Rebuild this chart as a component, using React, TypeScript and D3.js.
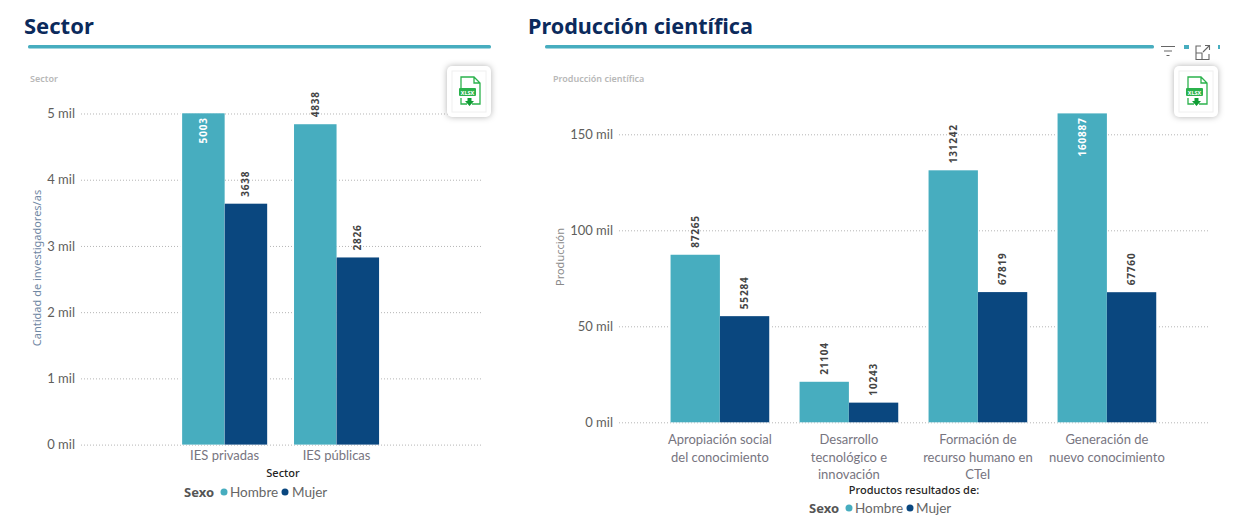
import { useEffect, useRef } from "react";
import * as d3 from "d3";

const seriesNames = ["Hombre", "Mujer"];
const seriesColors = ["#47adbf", "#0a477f"];

const sectorCategories = ["IES privadas", "IES públicas"];
const sectorHombre = [5003, 4838];
const sectorMujer = [3638, 2826];
const sectorTicks = [0, 1000, 2000, 3000, 4000, 5000];

const prodCategories = [
  ["Apropiación social", "del conocimiento"],
  ["Desarrollo", "tecnológico e", "innovación"],
  ["Formación de", "recurso humano en", "CTeI"],
  ["Generación de", "nuevo conocimiento"],
];
const prodHombre = [87265, 21104, 131242, 160887];
const prodMujer = [55284, 10243, 67819, 67760];
const prodTicks = [0, 50000, 100000, 150000];

const FONT = "'Noto Sans', 'Open Sans', sans-serif";
const BODY_FONT = "Lato, 'Noto Sans', sans-serif";

type Sel = d3.Selection<SVGGElement, unknown, null, undefined>;

interface ChartOpts {
  title: string;
  titleX: number;
  titleSize: number;
  ruleX: [number, number];
  caption: string;
  captionX: number;
  labels: string[][];
  hombre: number[];
  mujer: number[];
  ticks: number[];
  xRange: [number, number];
  padding: number;
  yRange: [number, number];
  gridX: [number, number];
  yTitle: string;
  yTitleX: number;
  yTitleY: number;
  yTitleColor: string;
  xTitle: string;
  xTitleX: number;
  xTitleY: number;
  labelY: number;
  legendY: number;
  legendX: [number, number, number, number, number];
  buttonX: number;
}

// boton de descarga xlsx
function drawButton(g: Sel, x: number) {
  const b = g.append("g").attr("transform", `translate(${x},66)`);
  b.append("rect")
    .attr("width", 44)
    .attr("height", 51)
    .attr("rx", 5)
    .attr("fill", "#fff")
    .style("filter", "drop-shadow(0 0 3px rgba(0,0,0,0.3))");
  b.append("rect")
    .attr("x", 5)
    .attr("y", 5)
    .attr("width", 34)
    .attr("height", 41)
    .attr("fill", "none")
    .attr("stroke", "#f0f0f0");
  b.append("path")
    .attr("d", "M14 26 V11 H27 L33 17 V38 H25 M14 32 V38 H20 M27 11 V17 H33")
    .attr("fill", "none")
    .attr("stroke", "#2bb24c")
    .attr("stroke-width", 1.3);
  b.append("rect")
    .attr("x", 12)
    .attr("y", 22)
    .attr("width", 17)
    .attr("height", 8)
    .attr("rx", 1)
    .attr("fill", "#2bb24c");
  b.append("text")
    .attr("x", 20.5)
    .attr("y", 28.5)
    .attr("text-anchor", "middle")
    .attr("font-family", FONT)
    .attr("font-size", 5.5)
    .attr("font-weight", 700)
    .attr("fill", "#fff")
    .text("XLSX");
  b.append("path").attr("d", "M20.5 32 h4 v3 h2.5 l-4.5 5 l-4.5 -5 h2.5 z").attr("fill", "#0f9d34");
}

function drawChart(g: Sel, o: ChartOpts) {
  g.append("text")
    .attr("x", o.titleX)
    .attr("y", 34)
    .attr("font-family", FONT)
    .attr("font-size", o.titleSize)
    .attr("font-weight", 700)
    .attr("fill", "#0b2a5c")
    .text(o.title);

  g.append("rect")
    .attr("x", o.ruleX[0])
    .attr("y", 45)
    .attr("width", o.ruleX[1] - o.ruleX[0])
    .attr("height", 3.5)
    .attr("rx", 1.5)
    .attr("fill", seriesColors[0]);

  g.append("text")
    .attr("x", o.captionX)
    .attr("y", 81.5)
    .attr("font-family", FONT)
    .attr("font-size", 9)
    .attr("font-weight", 600)
    .attr("fill", "#b8b8b8")
    .text(o.caption);

  const cats = o.labels.map((l) => l.join(" "));
  const y = d3.scaleLinear().domain([0, d3.max(o.hombre) as number]).range(o.yRange);
  const x0 = d3
    .scaleBand<string>()
    .domain(cats)
    .range(o.xRange)
    .paddingInner(o.padding)
    .paddingOuter(o.padding / 2);
  const x1 = d3.scaleBand<string>().domain(seriesNames).range([0, x0.bandwidth()]);

  // ejes y cuadricula
  const yAxis = g
    .append("g")
    .attr("transform", `translate(${o.gridX[0]},0)`)
    .call(
      d3
        .axisLeft(y)
        .tickValues(o.ticks)
        .tickSize(0)
        .tickPadding(6)
        .tickFormat((d) => `${(d as number) / 1000} mil`)
    );
  yAxis.select(".domain").remove();
  yAxis
    .selectAll("text")
    .attr("font-family", BODY_FONT)
    .attr("font-size", 13)
    .attr("fill", "#605e5c");
  yAxis
    .selectAll(".tick")
    .append("line")
    .attr("x2", o.gridX[1] - o.gridX[0])
    .attr("stroke", "#b5b5b5")
    .attr("stroke-dasharray", "1 2");

  g.append("text")
    .attr("transform", `translate(${o.yTitleX},${o.yTitleY}) rotate(-90)`)
    .attr("text-anchor", "middle")
    .attr("font-family", FONT)
    .attr("font-size", 11)
    .attr("fill", o.yTitleColor)
    .text(o.yTitle);

  // barras
  seriesNames.forEach((name, s) => {
    const values = s === 0 ? o.hombre : o.mujer;
    const groups = g
      .append("g")
      .selectAll("g")
      .data(values)
      .enter()
      .append("g")
      .attr("transform", (_, i) => `translate(${x0(cats[i])},0)`);

    groups
      .append("rect")
      .attr("x", (x1(name) as number) - (s === 0 ? 2 : 0))
      .attr("y", (d) => y(d))
      .attr("width", x1.bandwidth() + 2)
      .attr("height", (d) => o.yRange[0] - y(d))
      .attr("fill", "#fff");

    groups
      .append("rect")
      .attr("x", x1(name) as number)
      .attr("y", (d) => y(d))
      .attr("width", x1.bandwidth())
      .attr("height", (d) => o.yRange[0] - y(d))
      .attr("fill", seriesColors[s]);

    // etiqueta dentro de la barra si llega al tope del eje
    groups
      .append("text")
      .attr("transform", (d) => {
        const inside = y(d) <= o.yRange[1] + 1;
        const ly = inside ? y(d) + 4 : y(d) - 7;
        return `translate(${(x1(name) as number) + x1.bandwidth() / 2 + 3.5},${ly}) rotate(-90)`;
      })
      .attr("text-anchor", (d) => (y(d) <= o.yRange[1] + 1 ? "end" : "start"))
      .attr("font-family", FONT)
      .attr("font-size", 10)
      .attr("font-weight", 700)
      .attr("letter-spacing", 0.8)
      .attr("fill", (d) => (y(d) <= o.yRange[1] + 1 ? "#fff" : "#444"))
      .text((d) => d);
  });

  // etiquetas de categoria
  const catText = g
    .append("g")
    .selectAll("text")
    .data(o.labels)
    .enter()
    .append("text")
    .attr("text-anchor", "middle")
    .attr("font-family", BODY_FONT)
    .attr("font-size", 13)
    .attr("fill", "#77757f")
    .attr("x", (_, i) => (x0(cats[i]) as number) + x0.bandwidth() / 2);
  catText
    .selectAll("tspan")
    .data((d) => d)
    .enter()
    .append("tspan")
    .attr("x", function () {
      return (this.parentNode as SVGTextElement).getAttribute("x");
    })
    .attr("y", (_, i) => o.labelY + i * 17.5)
    .text((d) => d);

  g.append("text")
    .attr("x", o.xTitleX)
    .attr("y", o.xTitleY)
    .attr("text-anchor", "middle")
    .attr("font-family", FONT)
    .attr("font-size", 11)
    .attr("font-weight", 500)
    .attr("fill", "#252423")
    .text(o.xTitle);

  // leyenda
  const [sexoX, dot1, t1, dot2, t2] = o.legendX;
  g.append("text")
    .attr("x", sexoX)
    .attr("y", o.legendY)
    .attr("font-family", FONT)
    .attr("font-size", 13)
    .attr("font-weight", 700)
    .attr("fill", "#555")
    .text("Sexo");
  [dot1, dot2].forEach((cx, i) => {
    g.append("circle")
      .attr("cx", cx)
      .attr("cy", o.legendY - 5)
      .attr("r", 3.5)
      .attr("fill", seriesColors[i]);
    g.append("text")
      .attr("x", i === 0 ? t1 : t2)
      .attr("y", o.legendY)
      .attr("font-family", BODY_FONT)
      .attr("font-size", 13.5)
      .attr("fill", "#666")
      .text(seriesNames[i]);
  });

  drawButton(g, o.buttonX);
}

const App = () => {
  const ref = useRef<SVGSVGElement>(null);

  useEffect(() => {
    const svg = d3.select(ref.current);
    svg.selectAll("*").remove();

    drawChart(svg.append("g") as unknown as Sel, {
      title: "Sector",
      titleX: 24,
      titleSize: 22,
      ruleX: [28, 491],
      caption: "Sector",
      captionX: 30,
      labels: sectorCategories.map((c) => [c]),
      hombre: sectorHombre,
      mujer: sectorMujer,
      ticks: sectorTicks,
      xRange: [168.7, 392.5],
      padding: 0.24,
      yRange: [444.6, 113.3],
      gridX: [81, 483],
      yTitle: "Cantidad de investigadores/as",
      yTitleX: 41,
      yTitleY: 268,
      yTitleColor: "#6f87a3",
      xTitle: "Sector",
      xTitleX: 283,
      xTitleY: 477,
      labelY: 460,
      legendY: 497,
      legendX: [184, 224, 230, 285, 292],
      buttonX: 447,
    });

    const right = svg.append("g") as unknown as Sel;
    drawChart(right, {
      title: "Producción científica",
      titleX: 528,
      titleSize: 21.6,
      ruleX: [545, 1154],
      caption: "Producción científica",
      captionX: 553,
      labels: prodCategories,
      hombre: prodHombre,
      mujer: prodMujer,
      ticks: prodTicks,
      xRange: [655.4, 1171.4],
      padding: 0.235,
      yRange: [422.3, 113.4],
      gridX: [619, 1210],
      yTitle: "Producción",
      yTitleX: 564,
      yTitleY: 257,
      yTitleColor: "#8a8a8a",
      xTitle: "Productos resultados de:",
      xTitleX: 914,
      xTitleY: 494,
      labelY: 444,
      legendY: 513,
      legendX: [809, 849, 855, 910, 916],
      buttonX: 1174,
    });

    // iconos de la cabecera del visual
    right
      .append("path")
      .attr("d", "M1161 46.5 h14 M1164 51 h8 M1166.5 55.5 h3")
      .attr("stroke", "#666")
      .attr("stroke-width", 1.2)
      .attr("fill", "none");
    right.append("rect").attr("x", 1184).attr("y", 45).attr("width", 5).attr("height", 4).attr("fill", seriesColors[0]);
    right
      .append("path")
      .attr("d", "M1201 46 H1196 V59.5 H1209 V54 M1196 53 H1202 V59.5 M1203 52 L1209.5 45.5 M1205 45.5 H1209.5 V50")
      .attr("stroke", "#666")
      .attr("stroke-width", 1.1)
      .attr("fill", "none");
    right.append("rect").attr("x", 1218).attr("y", 45).attr("width", 2).attr("height", 4).attr("fill", seriesColors[0]);
  }, []);

  return (
    <svg
      ref={ref}
      width={1249}
      height={532}
      style={{ position: "absolute", left: 0, top: 0, background: "#fff" }}
    />
  );
};

export default App;
